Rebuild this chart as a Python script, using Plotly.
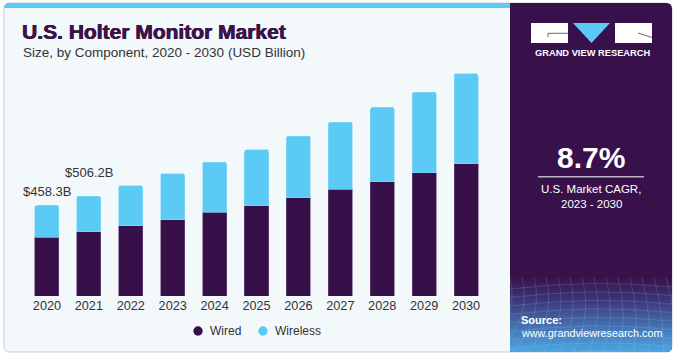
import base64
import plotly.graph_objects as go

# ---------------- data ----------------
years = ['2020', '2021', '2022', '2023', '2024', '2025', '2026', '2027', '2028', '2029', '2030']
wired = [297.6, 324.4, 356.4, 387.0, 424.2, 458.0, 498.4, 541.0, 579.5, 625.2, 669.2]
wireless = [160.7, 181.8, 202.9, 233.2, 253.6, 282.2, 311.6, 339.6, 375.5, 407.6, 456.5]
labelled_years = ['2020', '2021']
label_shifts = [14, 24]
series_names = ['Wired', 'Wireless']
cagr_text = '8.7%'

# ---------------- style ----------------
W, H = 676, 358
C_WIRED = '#37104A'
C_WIRELESS = '#5BCBF5'
C_PANEL = '#38114A'
C_CARD = '#F3F8FB'
C_TEXT = '#333333'
C_TITLE = '#3A1449'
FONT = 'Liberation Sans, Arial, sans-serif'


def fx(p):
    return p / W


def fy(p):
    return 1 - p / H


def rrect(x0, y0, x1, y1, tl=0, tr=0, br=0, bl=0):
    """Rounded rectangle path in paper coords from pixel coords (y down)."""
    def P(x, y):
        return f'{fx(x):.5f},{fy(y):.5f}'
    d = f'M {P(x0 + tl, y0)} L {P(x1 - tr, y0)} '
    if tr:
        d += f'Q {P(x1, y0)} {P(x1, y0 + tr)} '
    d += f'L {P(x1, y1 - br)} '
    if br:
        d += f'Q {P(x1, y1)} {P(x1 - br, y1)} '
    d += f'L {P(x0 + bl, y1)} '
    if bl:
        d += f'Q {P(x0, y1)} {P(x0, y1 - bl)} '
    d += f'L {P(x0, y0 + tl)} '
    if tl:
        d += f'Q {P(x0, y0)} {P(x0 + tl, y0)} '
    return d + 'Z'


totals = [a + b for a, b in zip(wired, wireless)]

fig = go.Figure()
fig.add_trace(go.Bar(x=years, y=wired, name=series_names[0], marker=dict(color=C_WIRED, line=dict(color='#6B5080', width=0.6)),
                     showlegend=False, hoverinfo='skip'))
fig.add_trace(go.Bar(x=years, y=wireless, name=series_names[1], marker=dict(color=C_WIRELESS, line=dict(color='#8AD8F6', width=0.6)),
                     showlegend=False, hoverinfo='skip'))

shapes = []
# card
shapes.append(dict(type='path', path=rrect(4, 3, 672, 352, 6, 6, 6, 6), xref='paper', yref='paper',
                   fillcolor=C_CARD, line=dict(color='#C9CCCF', width=1), layer='below'))
# cyan strip
shapes.append(dict(type='path', path=rrect(4, 3, 511, 8, 5, 0, 0, 0), xref='paper', yref='paper',
                   fillcolor=C_WIRELESS, line=dict(width=0), layer='below'))
# dark panel
shapes.append(dict(type='path', path=rrect(510, 3, 672, 352, 0, 6, 6, 0), xref='paper', yref='paper',
                   fillcolor=C_PANEL, line=dict(width=0), layer='below'))
# logo boxes
shapes.append(dict(type='rect', xref='paper', yref='paper', x0=fx(531), x1=fx(568), y0=fy(43), y1=fy(23),
                   fillcolor='white', line=dict(width=0), layer='above'))
shapes.append(dict(type='rect', xref='paper', yref='paper', x0=fx(615), x1=fx(652), y0=fy(43), y1=fy(23),
                   fillcolor='white', line=dict(width=0), layer='above'))
shapes.append(dict(type='path', xref='paper', yref='paper',
                   path=f'M {fx(573)},{fy(23)} L {fx(610)},{fy(23)} L {fx(591.5)},{fy(43)} Z',
                   fillcolor=C_WIRELESS, line=dict(width=0), layer='above'))
shapes.append(dict(type='path', xref='paper', yref='paper',
                   path=f'M {fx(568)},{fy(33.3)} L {fx(548)},{fy(33.3)} L {fx(548)},{fy(37)}',
                   line=dict(color='#6A6A6A', width=1), layer='above'))
shapes.append(dict(type='line', xref='paper', yref='paper', x0=fx(638), y0=fy(33), x1=fx(652), y1=fy(37.5),
                   line=dict(color='#6A6A6A', width=1), layer='above'))
# divider in CAGR panel
shapes.append(dict(type='line', xref='paper', yref='paper', x0=fx(538), x1=fx(644), y0=fy(176.7), y1=fy(176.7),
                   line=dict(color='#B9B4C4', width=1.5), layer='above'))
# legend circles
for cx, col in [(198, C_WIRED), (263, C_WIRELESS)]:
    shapes.append(dict(type='circle', xref='paper', yref='paper', x0=fx(cx - 4.7), x1=fx(cx + 4.7),
                       y0=fy(331 + 4.7), y1=fy(331 - 4.7), fillcolor=col, line=dict(width=0), layer='above'))

# gradient bottom of dark panel (decorative)
gw, gh = 162, 75
lines = []
for i in range(9):
    y = 6 + i * 8.5
    lines.append(f'<path d="M0,{y + 6:.1f} Q81,{y - 4:.1f} 162,{y + 4:.1f}"/>')
for i in range(-6, 20):
    x = i * 12
    lines.append(f'<path d="M{x:.1f},0 Q{x + 10:.1f},40 {x - 6 + (x - 81) * 0.25:.1f},{gh}"/>')
svg = (f'<svg xmlns="http://www.w3.org/2000/svg" width="{gw}" height="{gh}" viewBox="0 0 {gw} {gh}" preserveAspectRatio="none">'
       '<defs><linearGradient id="g" x1="0" y1="0" x2="0" y2="1">'
       '<stop offset="0" stop-color="#38114A"/><stop offset="0.3" stop-color="#3C3576"/>'
       '<stop offset="0.65" stop-color="#4470B0"/><stop offset="1" stop-color="#4DA6E0"/></linearGradient></defs>'
       f'<path d="M0,0 H{gw} V{gh - 6} Q{gw},{gh} {gw - 6},{gh} H0 Z" fill="url(#g)"/>'
       '<g stroke="#A9D2F2" stroke-opacity="0.30" stroke-width="0.6" fill="none">' + ''.join(lines) + '</g></svg>')
src = 'data:image/svg+xml;base64,' + base64.b64encode(svg.encode()).decode()

annotations = []
# value labels (x given as category index)
for yr, sh in zip(labelled_years, label_shifts):
    i = years.index(yr)
    annotations.append(dict(x=i, y=totals[i], xref='x', yref='y', text=f'${totals[i]:.1f}B', showarrow=False,
                            yanchor='middle', yshift=sh, font=dict(size=13, color=C_TEXT, family=FONT)))


def pa(text, x, y, size, color, bold=False, xanchor='left', shadow=None):
    font = dict(size=size, color=color, family=FONT)
    if shadow:
        font['shadow'] = shadow
    annotations.append(dict(x=fx(x), y=fy(y), xref='paper', yref='paper', text=f'<b>{text}</b>' if bold else text,
                            showarrow=False, xanchor=xanchor, yanchor='middle', font=font))


pa('U.S. Holter Monitor Market', 20, 31.5, 21, C_TITLE, bold=True,
   shadow=f'0.5px 0 0 {C_TITLE}, -0.3px 0 0 {C_TITLE}')
pa('Size, by Component, 2020 - 2030 (USD Billion)', 20.5, 52.3, 13.5, C_TEXT)
pa('GRAND VIEW RESEARCH', 592, 53, 9.3, 'white', bold=True, xanchor='center')
pa(cagr_text, 591, 158, 30, 'white', bold=True, xanchor='center')
pa('U.S. Market CAGR,', 591, 189, 11.5, 'white', xanchor='center')
pa('2023 - 2030', 591, 203.5, 11.5, 'white', xanchor='center')
pa('Source:', 519, 320, 11, 'white', bold=True)
pa('www.grandviewresearch.com', 519, 333, 10.8, 'white')
pa(series_names[0], 208, 331, 12, C_TEXT)
pa(series_names[1], 273, 331, 12, C_TEXT)

fig.update_layout(
    width=W, height=H,
    margin=dict(l=0, r=0, t=0, b=0),
    paper_bgcolor='white', plot_bgcolor='rgba(0,0,0,0)',
    barmode='stack', bargap=0.427, barcornerradius=2,
    showlegend=False,
    font=dict(family=FONT, color=C_TEXT),
    xaxis=dict(domain=[fx(26), fx(487)], type='category', categoryorder='array', categoryarray=years,
               range=[-0.5, len(years) - 0.5], autorange=False,
               showgrid=False, zeroline=False, showline=False,
               ticks='', tickfont=dict(size=12.7, color=C_TEXT, family=FONT), fixedrange=True),
    yaxis=dict(domain=[fy(296), fy(59)], range=[0, 1200], autorange=False, visible=False, fixedrange=True),
    shapes=shapes,
    annotations=annotations,
    images=[dict(source=src, xref='paper', yref='paper', x=fx(510), y=fy(277), sizex=gw / W, sizey=gh / H,
                 sizing='stretch', xanchor='left', yanchor='top', layer='above')],
)

fig.write_html('out.html', config={'displayModeBar': False, 'staticPlot': True},
               post_script="document.body.style.margin='0';")
